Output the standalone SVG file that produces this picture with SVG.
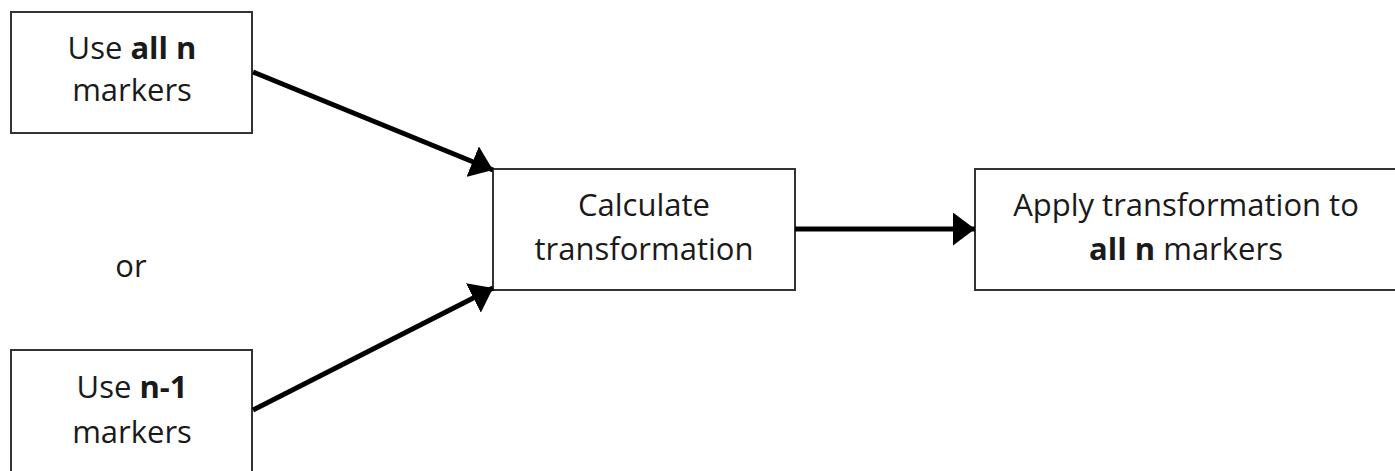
<svg xmlns="http://www.w3.org/2000/svg" width="1395" height="471" viewBox="0 0 1395 471">
<style>
.box{fill:#fff;stroke:#333;stroke-width:2}
.t{font-family:"Open Sans","Liberation Sans",sans-serif;font-size:31px;fill:#1a1a1a;text-anchor:middle}
.b{font-weight:bold}
.c{stroke:#000;stroke-width:5;fill:none;marker-end:url(#ah)}
</style>
<defs>
<marker id="ah" viewBox="0 0 4 6" refX="4" refY="3" markerWidth="4.4" markerHeight="6.6" markerUnits="strokeWidth" orient="auto">
<path d="M0,0 L4,3 L0,6 z" fill="#000"/>
</marker>
</defs>
<rect width="1395" height="471" fill="#fff"/>
<g id="n1">
<rect class="box" x="11" y="12" width="241" height="121"/>
<text class="t" x="132" y="59">Use <tspan class="b">all n</tspan></text>
<text class="t" x="132" y="101">markers</text>
</g>
<g id="or">
<text class="t" x="131" y="277">or</text>
</g>
<g id="n2">
<rect class="box" x="11" y="350" width="241" height="130"/>
<text class="t" x="132" y="398">Use <tspan class="b">n-1</tspan></text>
<text class="t" x="132" y="443">markers</text>
</g>
<g id="n3">
<rect class="box" x="493" y="169" width="302" height="121"/>
<text class="t" x="644" y="216">Calculate</text>
<text class="t" x="644" y="260">transformation</text>
</g>
<g id="n4">
<rect class="box" x="975" y="169" width="430" height="121"/>
<text class="t" x="1186" y="216">Apply transformation to</text>
<text class="t" x="1186" y="260"><tspan class="b">all n</tspan> markers</text>
</g>
<g id="connectors">
<path class="c" d="M253,72 L493,170"/>
<path class="c" d="M253,410 L493,288"/>
<path class="c" d="M795,229 L975,229"/>
</g>
</svg>
